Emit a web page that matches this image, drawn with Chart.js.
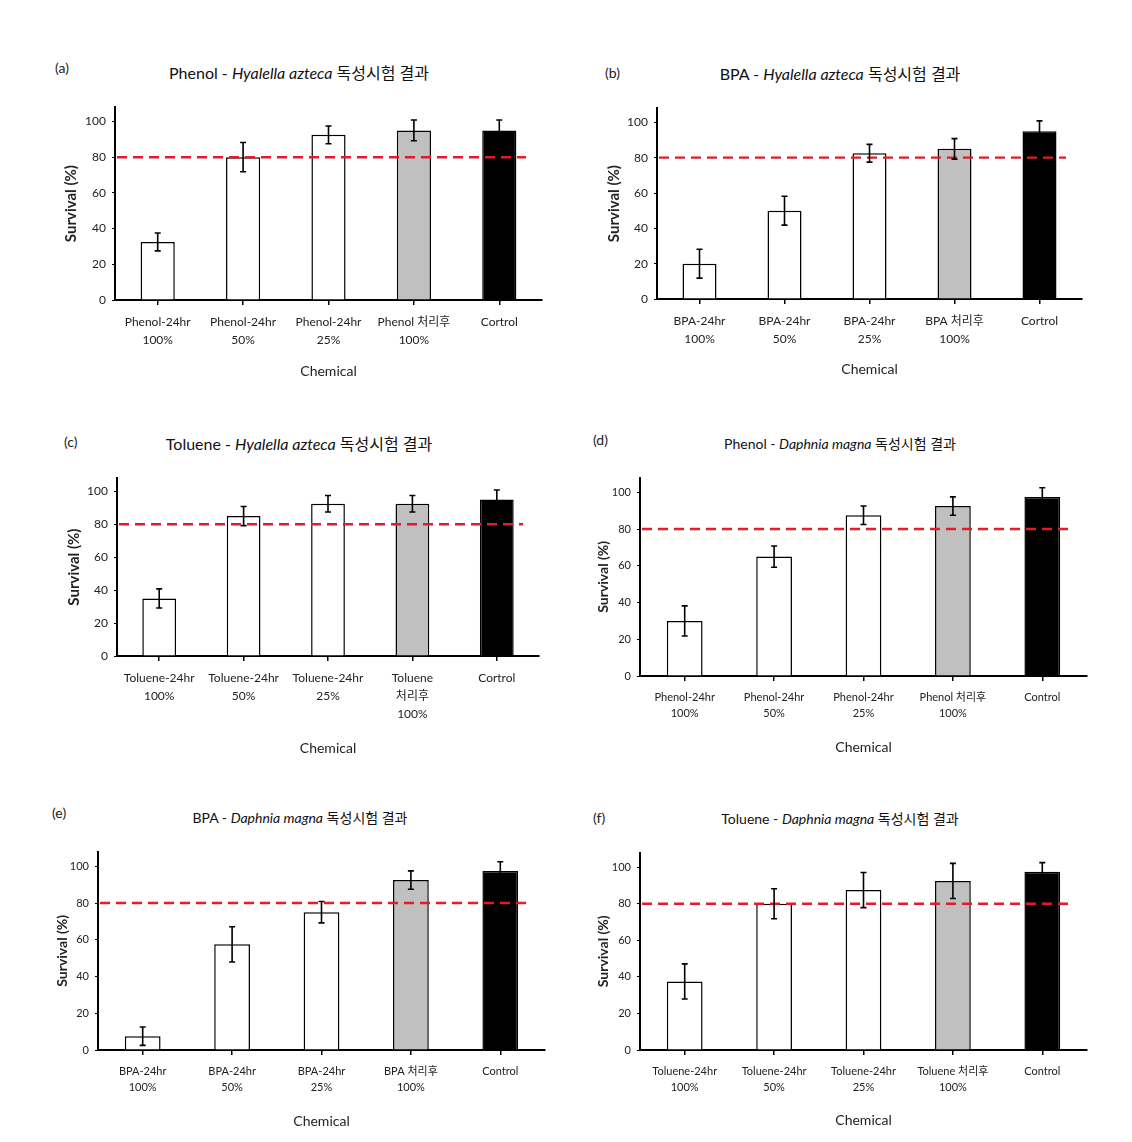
<!DOCTYPE html>
<html lang="ko">
<head>
<meta charset="utf-8">
<title>독성시험 결과</title>
<script src="https://cdn.jsdelivr.net/npm/chart.js@4.4.1/dist/chart.umd.min.js"></script>
<style>
  body { margin: 0; background: #fff; width: 1132px; height: 1142px; position: relative; overflow: hidden;
         font-family: Lato, 'Noto Sans CJK KR', sans-serif; color: #222; }
  .tag { position: absolute; font-size: 14px; line-height: 16px; }
  .title { position: absolute; transform: translate(-50%, -50%); font-size: 16px; white-space: nowrap; color: #111; }
  .title.small { font-size: 14px; }
  canvas { position: absolute; }
</style>
</head>
<body>
<div class="tag" style="left:55px;top:60px">(a)</div>
<div class="title" style="left:299px;top:72px">Phenol - <i>Hyalella azteca</i> 독성시험 결과</div>
<div class="tag" style="left:605px;top:65px">(b)</div>
<div class="title" style="left:840px;top:73px">BPA - <i>Hyalella azteca</i> 독성시험 결과</div>
<div class="tag" style="left:64px;top:434px">(c)</div>
<div class="title" style="left:299px;top:443px">Toluene - <i>Hyalella azteca</i> 독성시험 결과</div>
<div class="tag" style="left:593px;top:432px">(d)</div>
<div class="title small" style="left:840px;top:443px">Phenol - <i>Daphnia magna</i> 독성시험 결과</div>
<div class="tag" style="left:52px;top:805px">(e)</div>
<div class="title small" style="left:300px;top:817px">BPA - <i>Daphnia magna</i> 독성시험 결과</div>
<div class="tag" style="left:593px;top:810px">(f)</div>
<div class="title small" style="left:840px;top:818px">Toluene - <i>Daphnia magna</i> 독성시험 결과</div>

<canvas id="chart-a"></canvas>
<canvas id="chart-b"></canvas>
<canvas id="chart-c"></canvas>
<canvas id="chart-d"></canvas>
<canvas id="chart-e"></canvas>
<canvas id="chart-f"></canvas>

<script>
// categories
const catA = [['Phenol-24hr', '100%'], ['Phenol-24hr', '50%'], ['Phenol-24hr', '25%'], ['Phenol 처리후', '100%'], 'Cortrol'];
const catB = [['BPA-24hr', '100%'], ['BPA-24hr', '50%'], ['BPA-24hr', '25%'], ['BPA 처리후', '100%'], 'Cortrol'];
const catC = [['Toluene-24hr', '100%'], ['Toluene-24hr', '50%'], ['Toluene-24hr', '25%'], ['Toluene', '처리후', '100%'], 'Cortrol'];
const catD = [['Phenol-24hr', '100%'], ['Phenol-24hr', '50%'], ['Phenol-24hr', '25%'], ['Phenol 처리후', '100%'], 'Control'];
const catE = [['BPA-24hr', '100%'], ['BPA-24hr', '50%'], ['BPA-24hr', '25%'], ['BPA 처리후', '100%'], 'Control'];
const catF = [['Toluene-24hr', '100%'], ['Toluene-24hr', '50%'], ['Toluene-24hr', '25%'], ['Toluene 처리후', '100%'], 'Control'];

// survival (%) and error
const survA = [32.5, 80, 92.5, 95, 95];
const errA = [5, 8.2, 5, 5.8, 5.8];
const survB = [20, 50, 82.5, 85, 95];
const errB = [8.2, 8.2, 5, 5.8, 5.8];
const survC = [35, 85, 92.5, 92.5, 95];
const errC = [5.8, 5.8, 5, 5, 5.8];
const survD = [30, 65, 87.5, 92.5, 97.5];
const errD = [8.2, 5.8, 5, 5, 5];
const survE = [7.5, 57.5, 75, 92.5, 97.5];
const errE = [5, 9.6, 5.8, 5, 5];
const survF = [37.5, 80, 87.5, 92.5, 97.5];
const errF = [9.6, 8.2, 9.6, 9.6, 5];

// axis
const yTicks = [0, 20, 40, 60, 80, 100];
const yMax = 108;
const limitValue = 80;

const barColors = ['#ffffff', '#ffffff', '#ffffff', '#c0c0c0', '#000000'];
const fontFamily = "Lato, 'Noto Sans CJK KR', sans-serif";

// panel layout (plot area in page pixels)
const panels = [
    { id: 'a', labels: catA, values: survA, errors: errA, plot: { l: 115, r: 542, t: 107, b: 300 }, yW: 53, xH: 80, fs: 12, ys: 15 },
    { id: 'b', labels: catB, values: survB, errors: errB, plot: { l: 657, r: 1082, t: 108, b: 299 }, yW: 52, xH: 79, fs: 12, ys: 15 },
    { id: 'c', labels: catC, values: survC, errors: errC, plot: { l: 117, r: 539, t: 478, b: 656 }, yW: 52, xH: 101, fs: 12, ys: 15 },
    { id: 'd', labels: catD, values: survD, errors: errD, plot: { l: 640, r: 1087, t: 478, b: 676 }, yW: 45, xH: 80, fs: 11, ys: 14 },
    { id: 'e', labels: catE, values: survE, errors: errE, plot: { l: 98, r: 545, t: 852, b: 1050 }, yW: 44, xH: 80, fs: 11, ys: 14 },
    { id: 'f', labels: catF, values: survF, errors: errF, plot: { l: 640, r: 1087, t: 853, b: 1050 }, yW: 45, xH: 79, fs: 11, ys: 14 }
];

const padTop = 8;
const padRight = 8;
const topShift = 5; // extra gap Chart.js leaves above the chart area

// red dashed 80% line
const limitLine = {
    id: 'limitLine',
    afterDatasetsDraw(chart) {
        const { ctx, chartArea } = chart;
        const y = chart.scales.y.getPixelForValue(limitValue);
        ctx.save();
        ctx.strokeStyle = 'rgb(226, 28, 40)';
        ctx.lineWidth = 2.4;
        ctx.setLineDash([10, 6]);
        ctx.beginPath();
        ctx.moveTo(chartArea.left + 2, y);
        ctx.lineTo(chartArea.right - 16, y);
        ctx.stroke();
        ctx.restore();
    }
};

// error bars with caps
const errorBars = {
    id: 'errorBars',
    afterDatasetsDraw(chart) {
        const { ctx } = chart;
        const yScale = chart.scales.y;
        const ds = chart.data.datasets[0];
        const meta = chart.getDatasetMeta(0);
        ctx.save();
        ctx.strokeStyle = '#000';
        ctx.lineWidth = 1.6;
        meta.data.forEach((bar, i) => {
            const v = ds.data[i];
            const top = yScale.getPixelForValue(v + ds.errors[i]);
            const bot = yScale.getPixelForValue(v - ds.errors[i]);
            ctx.beginPath();
            ctx.moveTo(bar.x, top);
            ctx.lineTo(bar.x, bot);
            ctx.moveTo(bar.x - 3, top);
            ctx.lineTo(bar.x + 3, top);
            ctx.moveTo(bar.x - 3, bot);
            ctx.lineTo(bar.x + 3, bot);
            ctx.stroke();
        });
        ctx.restore();
    }
};

function buildChart(p) {
    const canvas = document.getElementById('chart-' + p.id);
    const left = p.plot.l - p.yW;
    const top = p.plot.t - padTop - topShift;
    const width = (p.plot.r - p.plot.l) + p.yW + padRight;
    const height = (p.plot.b - p.plot.t) + padTop + topShift + p.xH;
    canvas.width = width;
    canvas.height = height;
    canvas.style.left = left + 'px';
    canvas.style.top = top + 'px';
    canvas.style.width = width + 'px';
    canvas.style.height = height + 'px';

    new Chart(canvas.getContext('2d'), {
        type: 'bar',
        data: {
            labels: p.labels,
            datasets: [{
                data: p.values,
                errors: p.errors,
                backgroundColor: barColors,
                borderColor: '#000',
                borderWidth: 1.5,
                barPercentage: 0.4,
                categoryPercentage: 1
            }]
        },
        options: {
            responsive: false,
            animation: false,
            layout: { padding: { top: padTop, right: padRight, left: 0, bottom: 0 } },
            plugins: {
                legend: { display: false },
                tooltip: { enabled: false },
                title: { display: false }
            },
            scales: {
                x: {
                    offset: true,
                    grid: { display: true, drawOnChartArea: false, drawTicks: true, tickLength: 5, offset: false, color: '#000', lineWidth: 1.5 },
                    border: { display: true, color: '#000', width: 2 },
                    ticks: {
                        color: '#222', padding: 8, maxRotation: 0, autoSkip: false,
                        font: { family: fontFamily, size: p.fs, lineHeight: 1.5 }
                    },
                    title: {
                        display: true, text: 'Chemical', color: '#222', padding: 0,
                        font: { family: fontFamily, size: 14 }
                    },
                    afterFit(scale) { scale.height = p.xH; }
                },
                y: {
                    min: 0,
                    max: yMax,
                    afterBuildTicks(axis) { axis.ticks = yTicks.map(v => ({ value: v })); },
                    grid: { display: true, drawOnChartArea: false, drawTicks: true, tickLength: 3, color: '#000', lineWidth: 1 },
                    border: { display: true, color: '#000', width: 2 },
                    ticks: {
                        color: '#222', padding: 6,
                        font: { family: fontFamily, size: p.fs }
                    },
                    title: {
                        display: true, text: 'Survival (%)', color: '#222', padding: 0,
                        font: { family: fontFamily, size: p.ys, weight: 'bold' }
                    },
                    afterFit(scale) { scale.width = p.yW; }
                }
            }
        },
        plugins: [limitLine, errorBars]
    });
}

document.addEventListener('DOMContentLoaded', () => {
    panels.forEach(buildChart);
});
</script>
</body>
</html>
